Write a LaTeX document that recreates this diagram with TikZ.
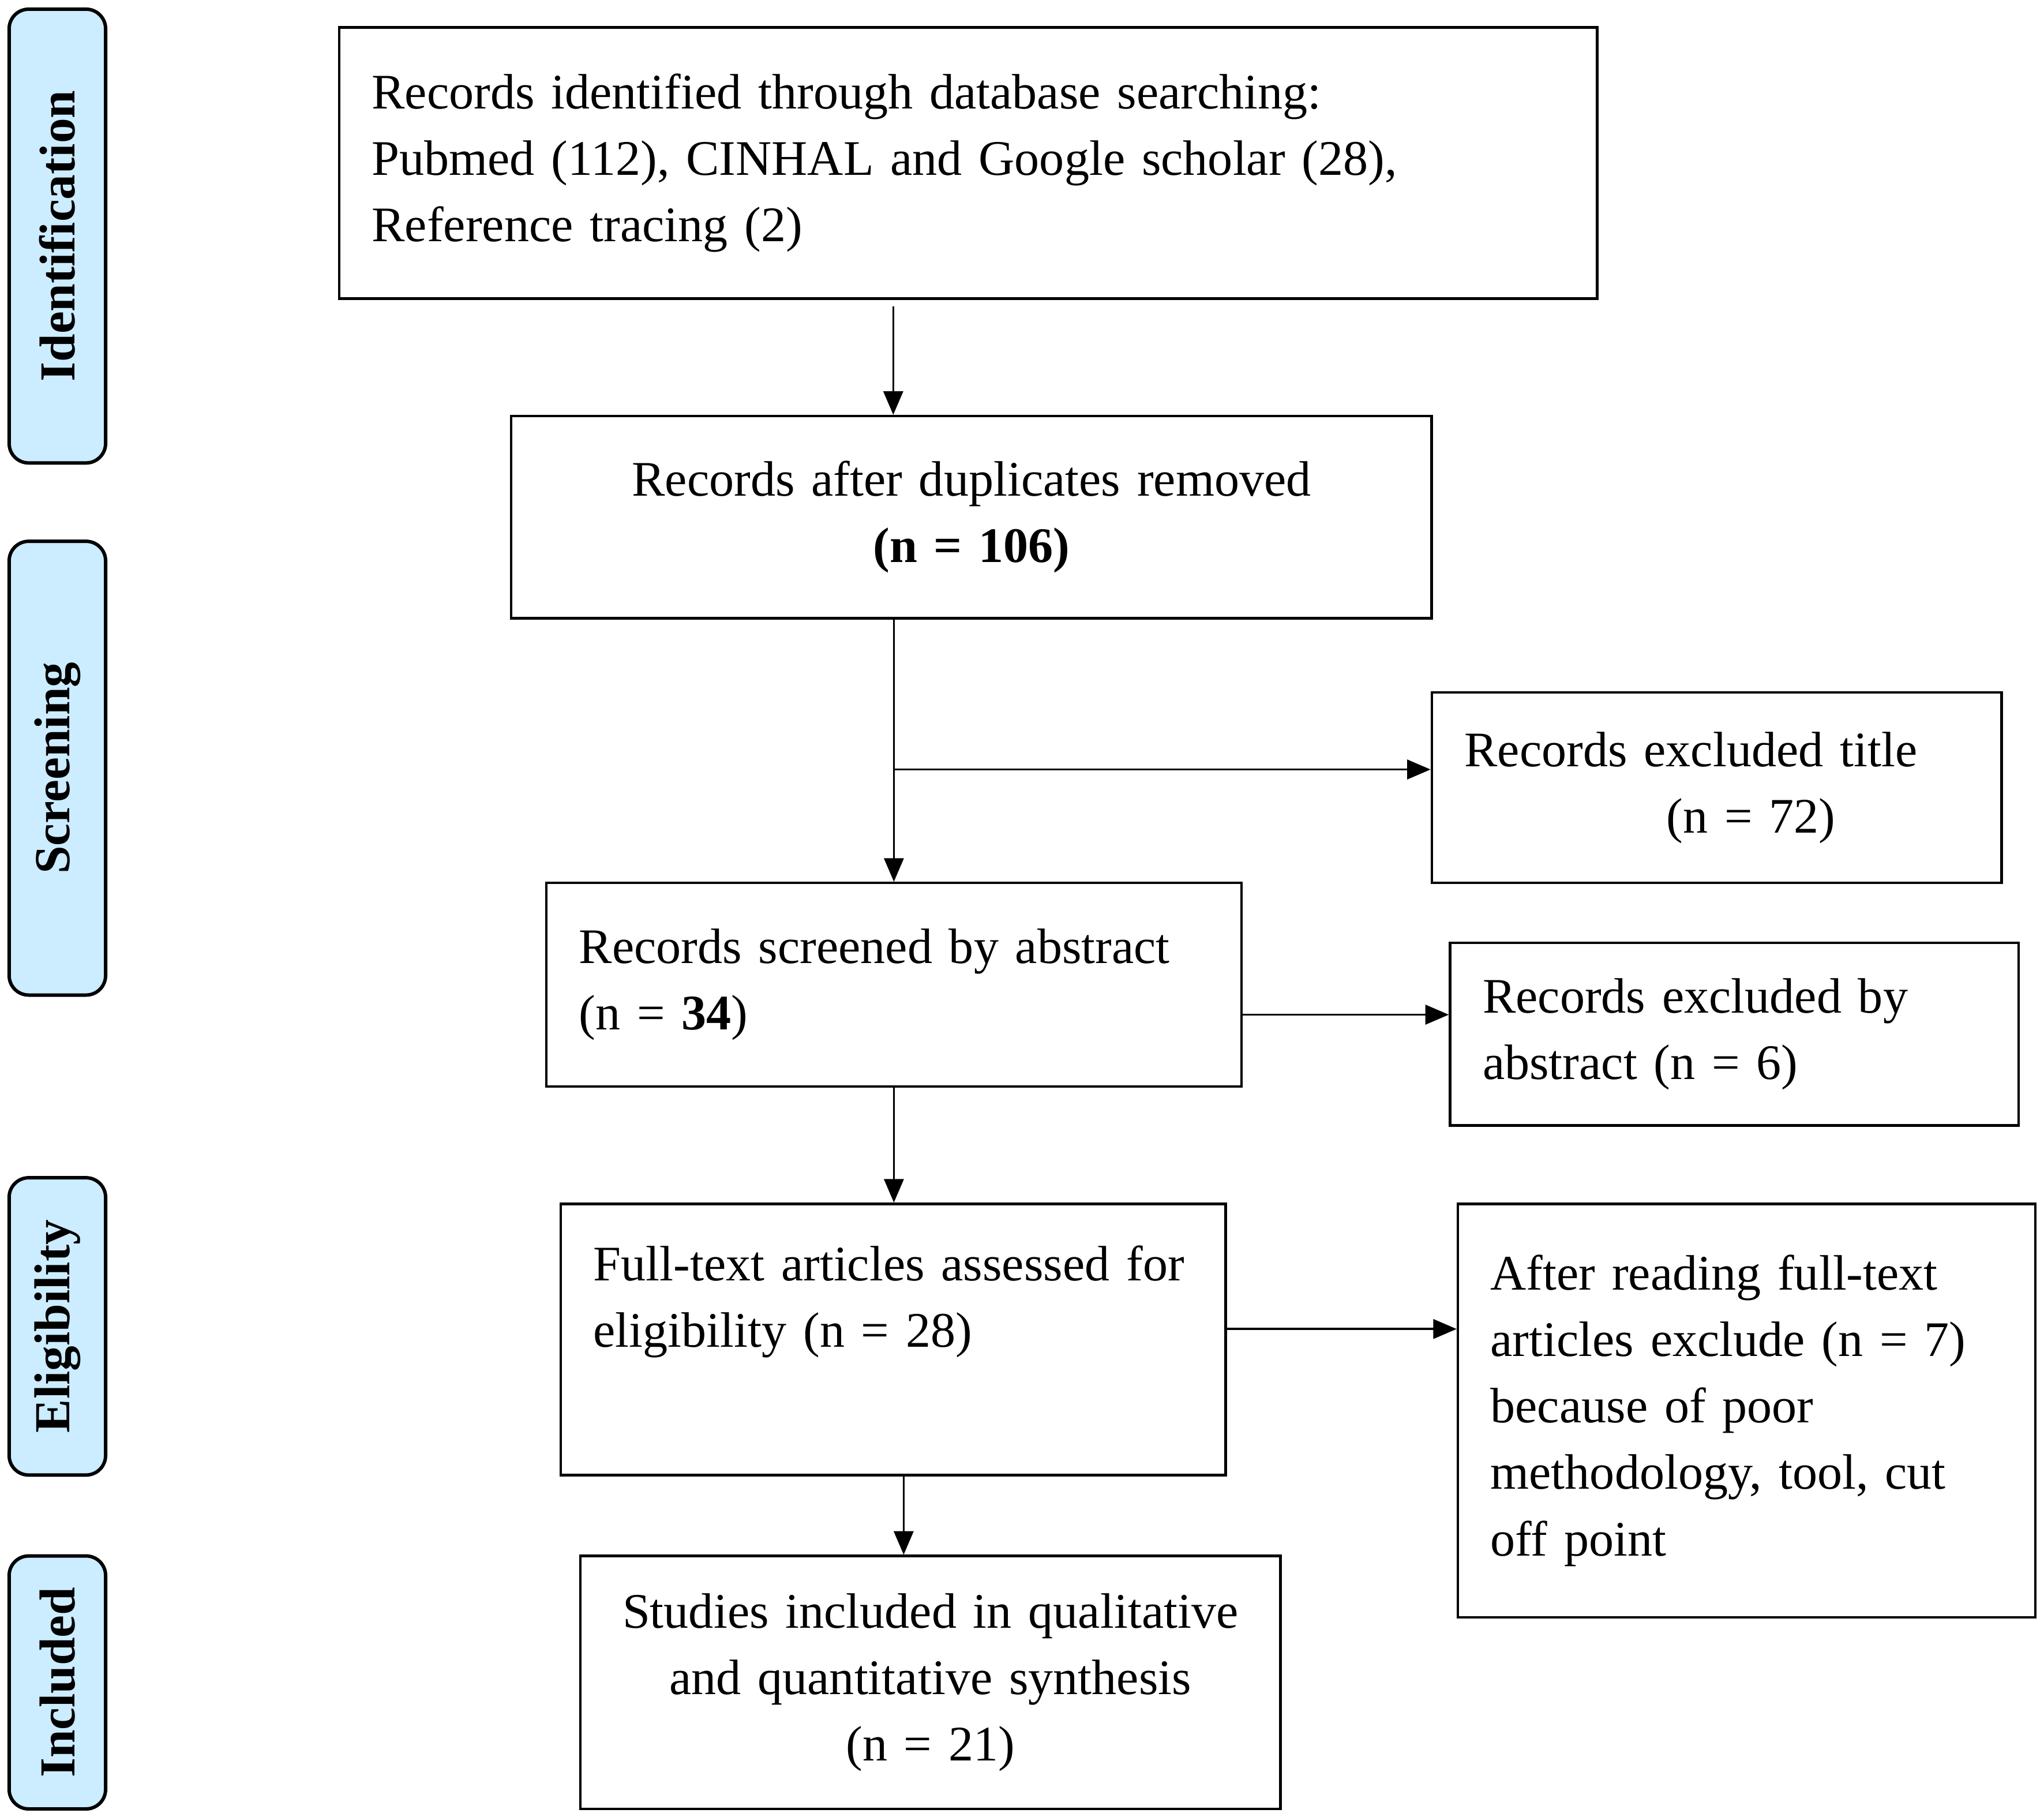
\documentclass[tikz,border=0pt]{standalone}
\usepackage{fontspec}
\setmainfont{Liberation Serif}
\usepackage{graphicx}
\usetikzlibrary{arrows.meta,calc}
\definecolor{tabblue}{HTML}{CCECFF}

\tikzset{
    box/.style={draw, line width=1.1pt, inner xsep=0.5cm, inner ysep=0pt, align=left,
        font=\fontsize{21.7}{29}\selectfont},
    tab/.style={draw, line width=1.5pt, rounded corners=0.3cm, fill=tabblue,
        minimum width=1.48cm, inner sep=0pt, font=\fontsize{22}{29}\selectfont\bfseries},
}

\begin{document}
\begin{tikzpicture}[x=0.02cm, y=-0.02cm, >={Triangle[length=0.36cm,width=0.3cm]}, line width=0.9pt]

    \useasboundingbox (0,0) rectangle (1567.5,1393);

    % stage tabs
    \node[tab, minimum height=6.96cm] (ident) at (44,181) {\rotatebox{90}{Identification}};
    \node[tab, minimum height=6.96cm] (screen) at (44,589) {\rotatebox{90}{Screening}};
    \node[tab, minimum height=4.56cm] (elig) at (44,1017) {\rotatebox{90}{Eligibility}};
    \node[tab, minimum height=3.88cm] (incl) at (44,1290) {\rotatebox{90}{Included}};

    % flow boxes
    \node[box, text width=18.3cm, minimum height=4.16cm] (found) at (742.5,125)
        {Records identified through database searching:\\
         Pubmed (112), CINHAL and Google scholar (28),\\
         Reference tracing (2)};
    \node[box, align=center, text width=13.12cm, minimum height=3.1cm] (dedup) at (745,396.5)
        {Records after duplicates removed\\ \textbf{(n = 106)}};
    \node[box, text width=7.74cm, minimum height=2.92cm] (extitle) at (1316.5,604)
        {Records excluded title\\ \hspace*{3.1cm}(n = 72)};
    \node[box, text width=9.66cm, minimum height=3.12cm] (abstr) at (685.5,755)
        {Records screened by abstract\\ (n = \textbf{34})};
    \node[box, text width=7.72cm, minimum height=2.8cm] (exabstr) at (1330,793)
        {Records excluded by\\ abstract (n = 6)};
    \node[box, text width=9.2cm, minimum height=4.16cm] (full) at (685,1027)
        {Full-text articles assessed for\\ eligibility (n = 28)\\ \strut};
    \node[box, text width=7.86cm, minimum height=6.34cm] (exfull) at (1339.5,1081.5)
        {After reading full-text\\ articles exclude (n = 7)\\ because of poor\\
         methodology, tool, cut\\ off point};
    \node[box, align=center, text width=9.74cm, minimum height=3.88cm] (incstudy) at (713.5,1290)
        {Studies included in qualitative\\ and quantitative synthesis\\ (n = 21)};

    \coordinate (split) at ($(abstr.north |- extitle.west)+(0,-14)$);

    \path[->]
        ([xshift=-1.15cm,yshift=-0.1cm]found.south) edge ([xshift=-1.15cm]found.south |- dedup.north)
        (split) edge (split -| extitle.west)
        ([yshift=-0.46cm]abstr.east) edge ([yshift=-0.46cm]abstr.east -| exabstr.west)
        (abstr.south) edge (abstr.south |- full.north)
        ([yshift=0.16cm]full.east) edge ([yshift=0.16cm]full.east -| exfull.west)
        ([xshift=-0.41cm]incstudy.north |- full.south) edge ([xshift=-0.41cm]incstudy.north)
    ;
    \draw (abstr.north |- dedup.south) -- (split);
    \draw[->] (split) -- (abstr.north);

\end{tikzpicture}
\end{document}
